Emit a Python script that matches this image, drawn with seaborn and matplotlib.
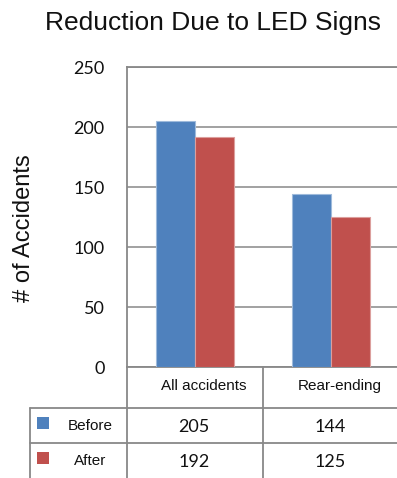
import matplotlib
matplotlib.use("Agg")
import matplotlib.pyplot as plt
from matplotlib.lines import Line2D
from matplotlib.patches import Rectangle
import matplotlib.colors as mcolors
import seaborn as sns
import pandas as pd

# Accident counts before and after the LED signs were installed
categories = ["All accidents", "Rear-ending"]
series = ["Before", "After"]
before = [205, 144]
after = [192, 125]
y_ticks = [0, 50, 100, 150, 200, 250]

colors = ["#4F81BD", "#C0504D"]
grid_gray = "#888888"

df = pd.DataFrame({
    "category": categories * 2,
    "period": [series[0]] * len(categories) + [series[1]] * len(categories),
    "count": before + after,
})

sns.set_theme(style="white")
plt.rcParams["font.family"] = ["Liberation Sans", "DejaVu Sans"]

W, H = 397, 478
fig = plt.figure(figsize=(W / 100, H / 100), dpi=100)


def fx(px):
    return px / W


def fy(py):
    return 1 - py / H


# plot area in pixel terms
left, top, bottom = 127, 67, 367
col_w = 136
ax = fig.add_axes([fx(left), fy(bottom), 1 - fx(left), (bottom - top) / H])

sns.barplot(data=df, x="category", y="count", hue="period", order=categories,
            hue_order=series, palette=colors, width=0.57, saturation=1,
            ax=ax, legend=False, zorder=3)

for patch, c in zip(ax.patches, [colors[0]] * 2 + [colors[1]] * 2):
    light = mcolors.to_rgb(c)
    light = tuple(0.55 * v + 0.45 for v in light)
    patch.set_edgecolor(light)
    patch.set_linewidth(0.8)

ax.set_xlim(-0.5, -0.5 + (W - left) / col_w)
ax.set_ylim(0, 250)
ax.set_yticks(y_ticks)
ax.set_yticklabels([str(t) for t in y_ticks], fontfamily="Lato", fontsize=13,
                   color="#111111")
ax.tick_params(axis="y", length=0, pad=16)
ax.set_xticks([])
ax.set_xlabel("")
ax.set_ylabel("")
ax.yaxis.grid(True, color=grid_gray, linewidth=1.1, zorder=0)
ax.set_axisbelow(True)
for side in ["left", "top", "bottom"]:
    ax.spines[side].set_color(grid_gray)
    ax.spines[side].set_linewidth(1.3)
ax.spines["right"].set_visible(False)

# title and axis label
fig.text(fx(213), fy(23), "Reduction Due to LED Signs", ha="center",
         va="center", fontsize=19, color="#111111")
fig.text(fx(24), fy(228), "# of Accidents", ha="center", va="center",
         rotation=90, fontsize=17, color="#111111")


def hline(x0, x1, y):
    fig.add_artist(Line2D([fx(x0), fx(x1)], [fy(y), fy(y)], color=grid_gray,
                          linewidth=1.3, transform=fig.transFigure))


def vline(x, y0, y1):
    fig.add_artist(Line2D([fx(x), fx(x)], [fy(y0), fy(y1)], color=grid_gray,
                          linewidth=1.3, transform=fig.transFigure))


# data table below the plot
row_top = [408, 443]
hline(30, W, row_top[0])
hline(30, W, row_top[1])
vline(30, row_top[0], H)
vline(left, bottom, H)
vline(left + col_w, bottom, H)

for i, cat in enumerate(categories):
    cx = left + col_w * (i + 0.5)
    fig.text(fx(cx + 9), fy(386), cat, ha="center", va="center", fontsize=11,
             color="#111111")

row_vals = [before, after]
for r, (name, vals) in enumerate(zip(series, row_vals)):
    y0 = row_top[r]
    cy = y0 + 18
    fig.add_artist(Rectangle((fx(37), fy(y0 + 21)), 12 / W, 12 / H,
                             facecolor=colors[r], edgecolor="none",
                             transform=fig.transFigure))
    fig.text(fx(90), fy(cy), name, ha="center", va="center", fontsize=11,
             color="#111111")
    for i, v in enumerate(vals):
        cx = left + col_w * (i + 0.5)
        fig.text(fx(cx - 1), fy(cy + 1), str(v), ha="center", va="center",
                 fontfamily="Lato", fontsize=13, color="#111111")

fig.savefig("out.png", dpi=100)
